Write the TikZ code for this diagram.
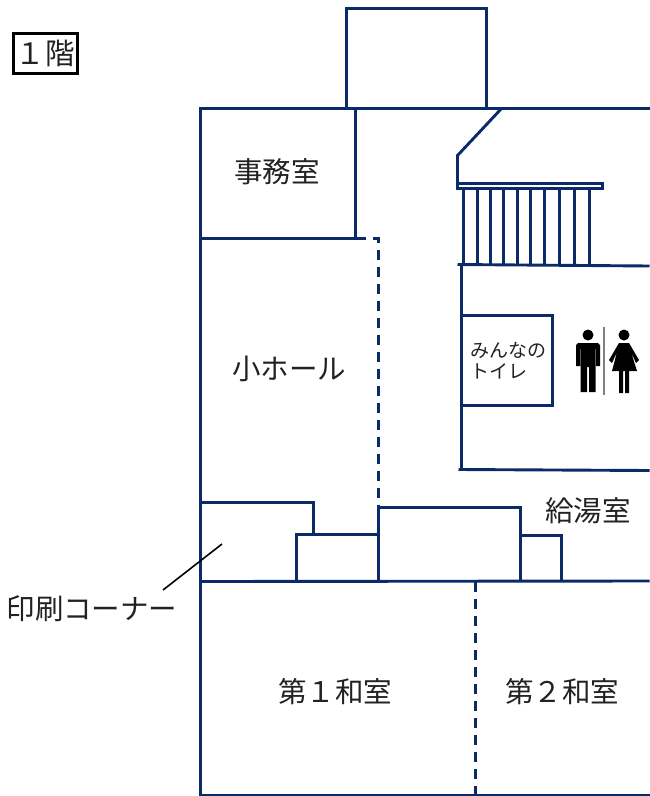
\documentclass[tikz,border=0pt]{standalone}
\usepackage{fontspec}
\setmainfont{Noto Sans CJK JP}
\usetikzlibrary{positioning}
\definecolor{wallblue}{HTML}{0B2A68}
\definecolor{inkgrey}{HTML}{222222}
\tikzstyle{wall} = [draw=wallblue, line width=2.9pt, line join=miter, shift={(0.5,0.5)}]
\tikzstyle{dashwall} = [wall, dash pattern=on 10pt off 7pt]
\tikzstyle{stair} = [draw=wallblue, line width=2.5pt]
\tikzstyle{roomlabel} = [inner sep=0pt, text=inkgrey, font=\fontsize{28.5}{32}\selectfont]
\tikzstyle{smalllabel} = [inner sep=0pt, text=inkgrey, font=\fontsize{19}{22}\selectfont]
\tikzstyle{titlebox} = [draw=black, line width=2.6pt, minimum width=64pt, minimum height=40pt, inner sep=0pt, text=inkgrey, font=\fontsize{29.5}{32}\selectfont]
\tikzstyle{leader} = [draw=black, line width=1.6pt]
\tikzstyle{figure} = [fill=black, draw=none]

\begin{document}
\begin{tikzpicture}[x=1pt, y=-1pt]
\useasboundingbox (0,0) rectangle (649,796);

% Title
\node (floor) [titlebox] at (45.5,53.5) {１階};

% Outer walls
\draw [wall] (346,107) -- (346,8) -- (486,8) -- (486,107);
\draw [wall] (649,108) -- (200,108) -- (200,795) -- (649,795);
\draw [wall] (355,108) -- (355,238) -- (200,238);
\draw [dashwall] (355,238) -- (378,238) -- (378,507);

% Stairs
\draw [wall] (501,108) -- (457,155) -- (457,183);
\draw [wall] (457,183) rectangle (602,188);
\foreach \x in {463.5,477.5,490.5,503.5,517.5,530.5,544.5,559.5,574.5,589.5}
  \draw [stair] (\x,189) -- (\x,264);

% Toilets
\draw [wall] (457,264) -- (649,265.5);
\draw [wall] (461,264) -- (461,469);
\draw [wall] (458,469) -- (649,470);
\draw [wall] (461,315) -- (552,315) -- (552,405) -- (461,405);

% Lower rooms
\draw [wall] (200,502) -- (313,502) -- (313,534);
\draw [wall] (296,581) -- (296,534) -- (378,534);
\draw [wall] (378,581) -- (378,507) -- (520,507) -- (520,581);
\draw [wall] (520,535) -- (561,535) -- (561,581);
\draw [wall] (200,581) -- (649,580.5);
\draw [dashwall] (475,581) -- (475,795);

% Man
\fill [figure] (588,335) circle (5.5);
\fill [figure] (578,343) -- (598,343) -- (600,345) -- (600,366) -- (596,366) -- (596,349)
  -- (595.5,349) -- (595.5,392) -- (589,392) -- (589,367) -- (587,367) -- (587,392) -- (580.5,392)
  -- (580.5,349) -- (580,349) -- (580,366) -- (576,366) -- (576,345) -- cycle;
\draw [draw=gray, line width=1.2pt] (604,327) -- (604,395);
% Woman
\fill [figure] (624,335) circle (5.5);
\fill [figure] (619,343) -- (629,343) -- (639,360) -- (636,363) -- (631,352) -- (637,371)
  -- (629,371) -- (629,393) -- (625,393) -- (625,371) -- (623,371) -- (623,393) -- (619,393)
  -- (619,371) -- (612,371) -- (617,352) -- (612,363) -- (609,360) -- cycle;

% Labels
\node (office) [roomlabel] at (277,172) {事務室};
\node (hall) [roomlabel] at (289,369) {小ホール};
\node (toilet) [smalllabel] at (508,350) {みんなの};
\node (toilet2) [smalllabel, below=5pt of toilet.south west, anchor=north west] {トイレ};
\node (kitchen) [roomlabel] at (588,511) {給湯室};
\node (room1) [roomlabel] at (335,692) {第１和室};
\node (room2) [roomlabel] at (562,692) {第２和室};
\node (printing) [roomlabel] at (92,609) {印刷コーナー};

% Leader
\coordinate (printspot) at (222,544);
\draw [leader] (163,590) -- (printspot);

\end{tikzpicture}
\end{document}
